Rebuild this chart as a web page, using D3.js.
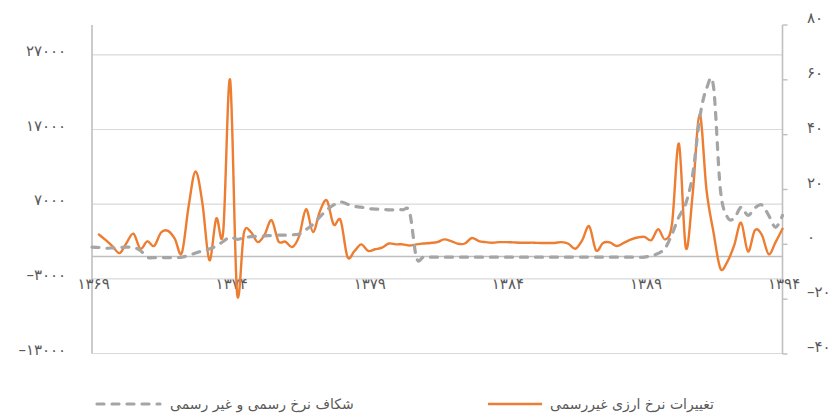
<!DOCTYPE html>
<html>
<head>
<meta charset="utf-8">
<script src="https://cdn.jsdelivr.net/npm/d3@7"></script>
<style>
  html, body { margin: 0; padding: 0; background: #fff; }
  svg { display: block; }
  text { font-family: "DejaVu Sans", "Noto Sans", sans-serif; }
</style>
</head>
<body>
<svg id="chart" width="834" height="417"></svg>
<script>
// ---- data (quarterly, 1369Q1 .. 1394Q1) ----
const startYear = 1369;
const periodCount = 101;

// gap between official and unofficial rate (left axis, rials)
const gapSeries = [
  1250, 1200, 1100, 1150, 1200, 1250, 1200, 800, -100, -150,
  -150, -150, -150, -100, 150, 450, 750, 1000, 1400, 2000,
  2600, 2300, 2500, 2650, 2700, 2750, 2800, 2850, 2850, 2900,
  3000, 3600, 4300, 5300, 6200, 6900, 7300, 7000, 6700, 6600,
  6400, 6350, 6300, 6250, 6250, 6250, 5900, -200, -80, -100,
  -100, -100, -100, -100, -100, -100, -100, -100, -100, -100,
  -100, -100, -100, -100, -100, -100, -100, -100, -100, -80,
  -80, -80, -80, -80, -80, -100, -100, -100, -100, -100,
  -100, 100, 400, 1100, 3000, 5300, 7100, 11000, 18500, 22500,
  22800, 9000, 5300, 5100, 6600, 5500, 6500, 6900, 5500, 3900,
  5500
];

// change of unofficial exchange rate (right axis, %)
const changeSeries = [
  null, 3.6, 1.5, -0.8, -3.2, 0.5, 3.9, -1.6, 1.1, -0.6,
  4.3, 4.9, 2.0, -3.2, 14, 26.6, 14.8, -5.8, 9.4, 4.5,
  60, -17.5, 4.1, 4.5, 0.8, 3.5, 8.8, 1.1, 1.0, -1.0,
  3.0, 12.8, 4.5, 12, 16, 7.2, 8.8, -4.6, -2.5, 0,
  -2.4, -1.8, -1.2, 0.3, 0, 0, -0.4, 0, 0.3, 0.5,
  0.8, 1.8, 1.2, 0.2, 0.3, 2.3, 1.2, 0.8, 0.6, 0.8,
  0.8, 0.7, 0.6, 0.6, 0.6, 0.5, 0.5, 0.5, 0.8, 0.2,
  -1.6, 1.5, 6.6, -2.2, 0.5, 0.7, -0.6, 0.5, 1.7, 2.5,
  2.7, 1.5, 5.5, 1.8, 7.5, 36.7, -1.3, 18.6, 47.4, 19.7,
  4.5, -8.8, -6.4, -0.4, 7.9, -2.6, 5.1, 3.5, -3.6, 0.8,
  5.7
];

const xTickIndex = [0, 20, 40, 60, 80, 100];
const xTickLabels = ["۱۳۶۹", "۱۳۷۴", "۱۳۷۹", "۱۳۸۴", "۱۳۸۹", "۱۳۹۴"];

const leftTicks = [27000, 17000, 7000, -3000, -13000];
const leftTickLabels = ["۲۷۰۰۰", "۱۷۰۰۰", "۷۰۰۰", "–۳۰۰۰", "–۱۳۰۰۰"];

const rightTicks = [80, 60, 40, 20, 0, -20, -40];
const rightTickLabels = ["۸۰", "۶۰", "۴۰", "۲۰", "۰", "–۲۰", "–۴۰"];

const seriesNames = ["تغییرات نرخ ارزی غیررسمی", "شکاف نرخ رسمی و غیر رسمی"];

// ---- build ----
const periods = d3.range(periodCount).map(i => (startYear + Math.floor(i / 4)) + "Q" + (i % 4 + 1));
const rows = periods.map((p, i) => ({ p, i, gap: gapSeries[i], chg: changeSeries[i] }));

const svg = d3.select("#chart");
const plotL = 92, plotR = 782.5, plotT = 25, plotB = 354;

const x = d3.scaleLinear().domain([0, periodCount - 1]).range([plotL, plotR]);
const yL = d3.scaleLinear().domain([-13000, 31000]).range([353.5, plotT]);
const yR = d3.scaleLinear().domain([-40, 80]).range([plotB, plotT]);

const textColor = "#595959";
const numFont = 15, numSpacing = 1.2;

// gridlines
svg.append("g").selectAll("line").data(leftTicks).join("line")
  .attr("x1", plotL).attr("x2", plotR)
  .attr("y1", d => yL(d)).attr("y2", d => yL(d))
  .attr("stroke", "#D9D9D9").attr("stroke-width", 1.2);

// category axis line at 0 of left axis
svg.append("line")
  .attr("x1", plotL).attr("x2", plotR)
  .attr("y1", yL(0)).attr("y2", yL(0))
  .attr("stroke", "#BFBFBF").attr("stroke-width", 1.6);

// left axis line
svg.append("line")
  .attr("x1", plotL).attr("x2", plotL)
  .attr("y1", plotT).attr("y2", yL(-13000))
  .attr("stroke", "#BFBFBF").attr("stroke-width", 1.6);

// right axis line + ticks
svg.append("line")
  .attr("x1", plotR).attr("x2", plotR)
  .attr("y1", plotT).attr("y2", plotB)
  .attr("stroke", "#BFBFBF").attr("stroke-width", 1.6);
svg.append("g").selectAll("line").data(rightTicks).join("line")
  .attr("x1", plotR).attr("x2", plotR + 5)
  .attr("y1", d => yR(d)).attr("y2", d => yR(d))
  .attr("stroke", "#BFBFBF").attr("stroke-width", 1.4);

// left labels
svg.append("g").selectAll("text").data(leftTicks).join("text")
  .attr("x", 65 + numSpacing).attr("y", d => yL(d) + 1)
  .attr("text-anchor", "end")
  .attr("font-size", numFont).attr("letter-spacing", numSpacing).attr("fill", textColor)
  .text((d, i) => leftTickLabels[i]);

// right labels
svg.append("g").selectAll("text").data(rightTicks).join("text")
  .attr("x", 807).attr("y", d => yR(d) - 2)
  .attr("text-anchor", "start")
  .attr("font-size", numFont).attr("letter-spacing", numSpacing).attr("fill", textColor)
  .text((d, i) => rightTickLabels[i]);

// x labels
svg.append("g").selectAll("text").data(xTickIndex).join("text")
  .attr("x", d => x(d) + 1 + numSpacing / 2).attr("y", 289)
  .attr("text-anchor", "middle")
  .attr("font-size", numFont).attr("letter-spacing", numSpacing).attr("fill", textColor)
  .text((d, i) => xTickLabels[i]);

// lines
const curve = d3.curveCardinal.tension(0);
const lineChg = d3.line()
  .defined(d => d.chg != null)
  .x(d => x(d.i)).y(d => yR(d.chg)).curve(curve);
const lineGap = d3.line()
  .x(d => x(d.i)).y(d => yL(d.gap)).curve(curve);

const orange = "#ED7D31", gray = "#A5A5A5";

svg.append("path").datum(rows)
  .attr("d", lineChg)
  .attr("fill", "none").attr("stroke", orange)
  .attr("stroke-width", 2.4).attr("stroke-linejoin", "round").attr("stroke-linecap", "round");

svg.append("path").datum(rows)
  .attr("d", lineGap)
  .attr("fill", "none").attr("stroke", gray)
  .attr("stroke-width", 3.2).attr("stroke-dasharray", "7,8")
  .attr("stroke-linecap", "round");

// legend
const lg = svg.append("g");
lg.append("line").attr("x1", 97).attr("x2", 160).attr("y1", 404).attr("y2", 404)
  .attr("stroke", gray).attr("stroke-width", 3.2).attr("stroke-dasharray", "7,8").attr("stroke-linecap", "round");
lg.append("text").attr("x", 170).attr("y", 409).attr("text-anchor", "start")
  .attr("font-size", 14).attr("fill", textColor).text(seriesNames[1]);
lg.append("line").attr("x1", 488).attr("x2", 542).attr("y1", 404).attr("y2", 404)
  .attr("stroke", orange).attr("stroke-width", 2.4);
lg.append("text").attr("x", 550).attr("y", 409).attr("text-anchor", "start")
  .attr("font-size", 14).attr("fill", textColor).text(seriesNames[0]);
</script>
</body>
</html>
